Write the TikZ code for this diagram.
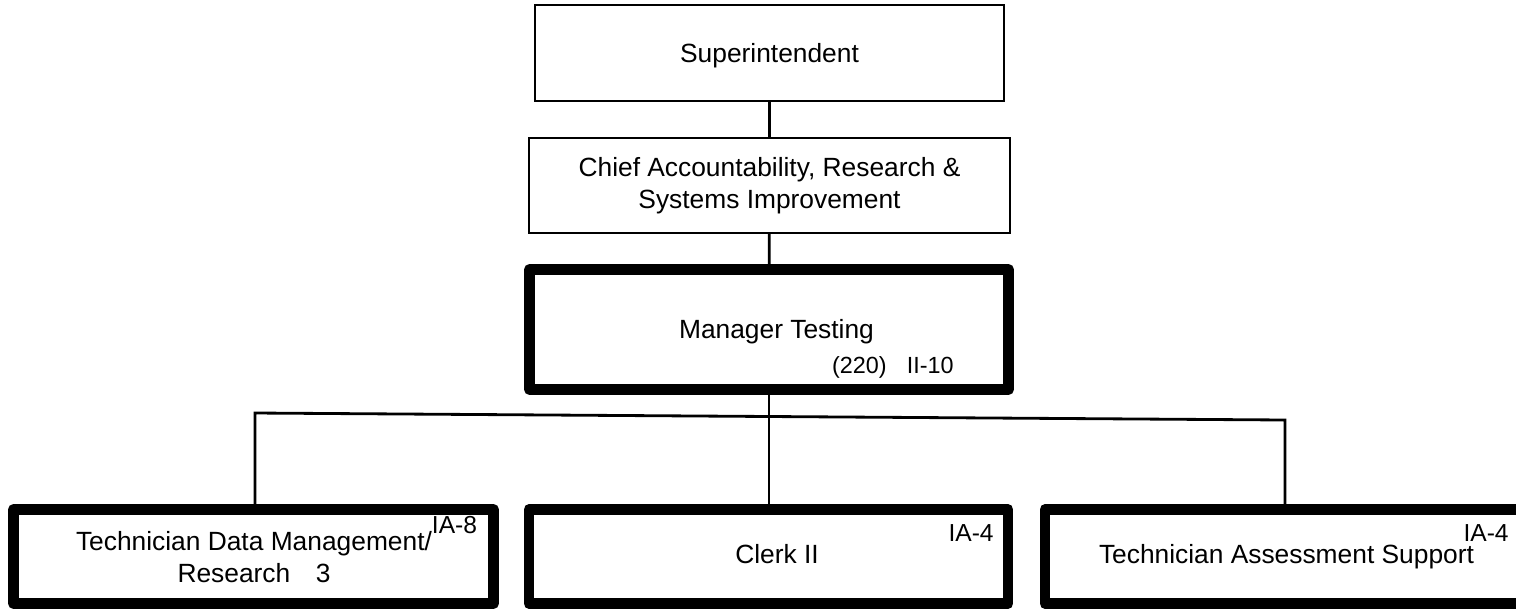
\documentclass[tikz,border=0pt]{standalone}
\usepackage{fontspec}
\setmainfont{Liberation Sans}
\begin{document}
\begin{tikzpicture}[x=0.02cm, y=-0.02cm,
    font=\fontsize{15}{18}\selectfont,
    post/.style={draw, line width=1.4pt, inner sep=0pt, align=center},
    keypost/.style={draw, line width=6.2pt, line join=round, inner sep=0pt, align=center},
    grade/.style={font=\fontsize{14}{16}\selectfont, inner sep=0pt},
    link/.style={line width=1.6pt}]
    \def\px{0.02cm}
    \def\bw{479}  % width of a thick box
    \def\bh{94}   % height of a bottom box
    \useasboundingbox (0,0) rectangle (1516,610);
    % Upper chain
    \node[post, text depth=0pt, minimum width=469*\px, minimum height=96*\px] (sup) at (769.5,53) {Superintendent};
    \node[post, minimum width=481*\px, minimum height=95*\px] (chief) at (769.5,185.5)
        {Chief Accountability, Research \&\\Systems Improvement};
    \node[keypost, minimum width=\bw*\px, minimum height=120*\px] (mgr) at (769,329.5) {};
    \node[anchor=base, inner sep=0pt] (mgrname) at (776.5,338) {Manager Testing};
    \node[grade, font=\fontsize{13.3}{16}\selectfont, anchor=base east] (mgrgrade) at (954,373) {(220)\hspace{11.5pt}II-10};
    % Bottom row
    \node[keypost, minimum width=480*\px, minimum height=\bh*\px] (tdm) at (253.5,556.5) {};
    \node[anchor=base, align=center, inner sep=0pt] (tdmname) at (254,582)
        {Technician Data Management/\rlap{\raisebox{9.6pt}{\fontsize{14}{16}\selectfont IA-8}}\\Research\hspace{14.5pt}3};
    \node[keypost, minimum width=\bw*\px, minimum height=\bh*\px] (clerk) at (768.5,556.5) {};
    \node[anchor=base, inner sep=0pt] (clerkname) at (777,563) {Clerk II};
    \node[grade, anchor=base east] (clerkgrade) at (994,541) {IA-4};
    \node[keypost, minimum width=\bw*\px, minimum height=\bh*\px] (tas) at (1284.5,556.5) {};
    \node[anchor=base, inner sep=0pt] (tasname) at (1286.5,563) {Technician Assessment Support};
    \node[grade, anchor=base east] (tasgrade) at (1509,541) {IA-4};
    % Connectors
    \coordinate (busL) at (255,413);
    \coordinate (busR) at (1285,420);
    \coordinate (stub) at (769,450);
    \draw[link] (sup) -- (chief);
    \draw[link] (chief) -- (mgr);
    \draw[link] (mgr.south) -- (stub);
    \draw[line width=0.6pt] (stub) -- (stub |- clerk.north);
    \draw[link] (busL |- tdm.north) -- (busL) -- (busR) -- (busR |- tas.north);
\end{tikzpicture}
\end{document}
